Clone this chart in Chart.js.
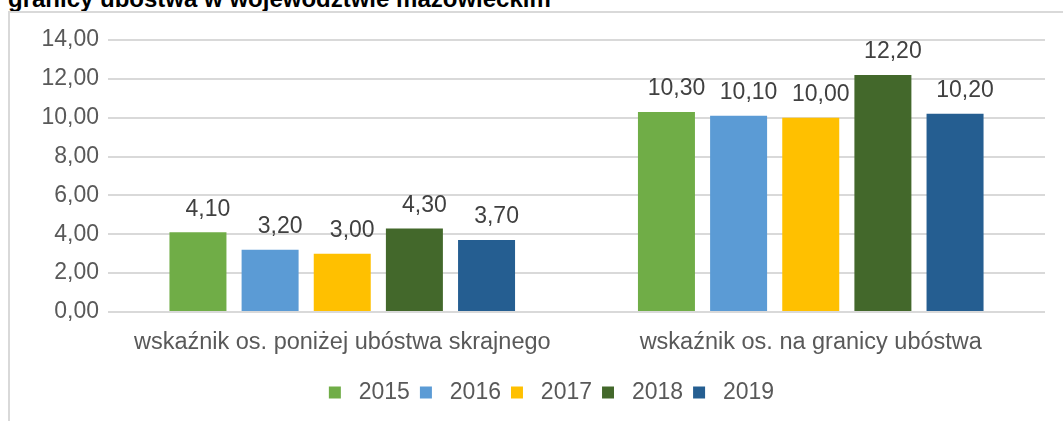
<!DOCTYPE html>
<html>
<head>
<meta charset="utf-8">
<script src="https://cdn.jsdelivr.net/npm/chart.js@4.4.1/dist/chart.umd.min.js"></script>
<style>
    html, body { margin: 0; padding: 0; background: #fff; }
    body { width: 1063px; height: 421px; position: relative; overflow: hidden; font-family: 'Liberation Sans', Arial, sans-serif; }
    #title { position: absolute; left: 8px; top: -13px; font-size: 24px; line-height: 24px; font-weight: bold; color: #000; white-space: nowrap; }
    #frame { position: absolute; left: 8px; top: 11px; width: 1100px; height: 500px; border-left: 2px solid #d9d9d9; border-top: 2px solid #d9d9d9; }
    #wrap { position: absolute; left: 0; top: 0; width: 1063px; height: 421px; }
</style>
</head>
<body>
<div id="title">granicy ubóstwa w województwie mazowieckim</div>
<div id="frame"></div>
<div id="wrap"><canvas id="chart"></canvas></div>
<script>
// Chart data
const categories = ['wskaźnik os. poniżej ubóstwa skrajnego', 'wskaźnik os. na granicy ubóstwa'];
const years = ['2015', '2016', '2017', '2018', '2019'];
const values2015 = [4.10, 10.30];
const values2016 = [3.20, 10.10];
const values2017 = [3.00, 10.00];
const values2018 = [4.30, 12.20];
const values2019 = [3.70, 10.20];
const yTicks = [0, 2, 4, 6, 8, 10, 12, 14];

const COLORS = {
    text: '#595959',
    label: '#404040',
    grid: '#d9d9d9',
    bars: ['#70ad47', '#5b9bd5', '#ffc000', '#43682b', '#255e91']
};

const FONT = "'Liberation Sans', Arial, sans-serif";

function formatPl(v) {
    return v.toFixed(2).replace('.', ',');
}

// value labels above bars
const valueLabels = {
    id: 'valueLabels',
    afterDraw(chart) {
        const ctx = chart.ctx;
        ctx.save();
        ctx.font = '23px ' + FONT;
        ctx.fillStyle = COLORS.label;
        ctx.textAlign = 'center';
        ctx.textBaseline = 'middle';
        chart.data.datasets.forEach((ds, i) => {
            const meta = chart.getDatasetMeta(i);
            meta.data.forEach((bar, j) => {
                ctx.fillText(formatPl(ds.data[j]), bar.x + 10, bar.y - 23);
            });
        });
        ctx.restore();
    }
};

// legend sits a bit right of centre in the original
const legendShift = {
    id: 'legendShift',
    afterLayout(chart) {
        if (chart.legend) {
            chart.legend.left += 29;
            chart.legend.right += 29;
        }
    }
};

const seriesValues = [values2015, values2016, values2017, values2018, values2019];

const datasets = years.map((y, i) => ({
    label: y,
    data: seriesValues[i],
    backgroundColor: COLORS.bars[i],
    borderWidth: 0,
    categoryPercentage: 0.77,
    barPercentage: 0.79
}));

new Chart(document.getElementById('chart'), {
    type: 'bar',
    data: { labels: categories, datasets },
    options: {
        responsive: true,
        maintainAspectRatio: false,
        animation: false,
        layout: { padding: { top: 40, right: 18, bottom: 7, left: 0 } },
        scales: {
            x: {
                grid: { display: false, drawTicks: false },
                border: { display: false },
                ticks: { color: COLORS.text, font: { size: 23.5, family: FONT }, padding: 16 },
                afterFit: s => { s.height = 59; }
            },
            y: {
                z: 1,
                min: 0,
                max: 14,
                afterBuildTicks: s => { s.ticks = yTicks.map(v => ({ value: v })); },
                grid: { color: COLORS.grid, lineWidth: 2, drawTicks: false },
                border: { display: false },
                ticks: {
                    color: COLORS.text,
                    font: { size: 23, family: FONT },
                    padding: 9,
                    callback: v => formatPl(v)
                },
                afterFit: s => { s.width = 108; }
            }
        },
        plugins: {
            legend: {
                position: 'bottom',
                labels: {
                    color: COLORS.text,
                    font: { size: 23, family: FONT },
                    boxWidth: 12,
                    boxHeight: 12,
                    padding: 10,
                    generateLabels: chart => Chart.defaults.plugins.legend.labels.generateLabels(chart)
                        .map(l => Object.assign(l, { text: ' ' + l.text }))
                }
            },
            tooltip: { enabled: false }
        }
    },
    plugins: [valueLabels, legendShift]
});
</script>
</body>
</html>
